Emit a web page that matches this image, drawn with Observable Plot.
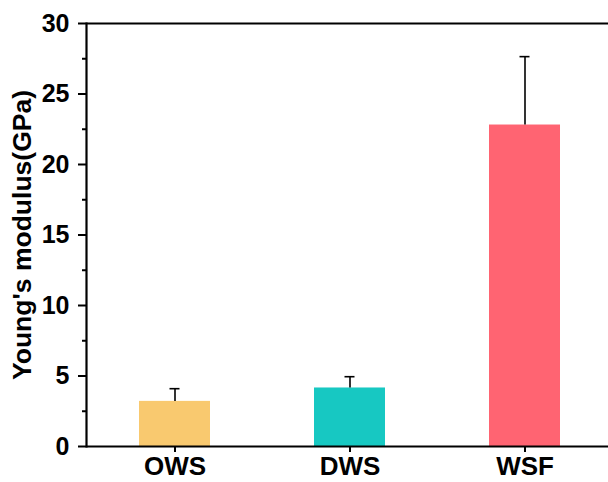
<!DOCTYPE html>
<html>
<head>
<meta charset="utf-8">
<script src="https://cdn.jsdelivr.net/npm/d3@7"></script>
<script src="https://cdn.jsdelivr.net/npm/@observablehq/plot@0.6"></script>
<style>
  html, body { margin: 0; padding: 0; background: #fff; }
  svg { display: block; }
  g[aria-label="y-axis label"], g[aria-label="y-axis label"] text { font-size: 26.5px; }
  g[aria-label="y-axis tick label"], g[aria-label="y-axis tick label"] text { font-size: 25px; }
  g[aria-label="x-axis tick label"], g[aria-label="x-axis tick label"] text { font-size: 26px; }
</style>
</head>
<body>
<div id="chart"></div>
<script>
const categories = ["OWS", "DWS", "WSF"];
const modulus = [3.2, 4.15, 22.8];
const errors = [0.9, 0.8, 4.85];
const colors = ["#F9C96F", "#17C8C2", "#FF6472"];
const majorTicks = [0, 5, 10, 15, 20, 25, 30];
const minorTicks = [2.5, 7.5, 12.5, 17.5, 22.5, 27.5];
const yLabel = "Young's modulus(GPa)";

const data = categories.map((c, i) => ({cat: c, val: modulus[i], top: modulus[i] + errors[i], color: colors[i]}));

const font = "'Liberation Sans', Arial, sans-serif";

const chart = Plot.plot({
  width: 608,
  height: 482,
  marginLeft: 86,
  marginRight: 0,
  marginTop: 23,
  marginBottom: 36,
  style: {fontFamily: font, fontWeight: "bold", fontSize: "25px", color: "#000", background: "#fff"},
  x: {domain: categories, range: [86, 612], paddingInner: 0.595, paddingOuter: 0.2975},
  y: {domain: [0, 30]},
  marks: [
    Plot.barY(data, {x: "cat", y: "val", fill: "color"}),
    Plot.ruleX(data, {x: "cat", y1: "val", y2: "top", stroke: "#000", strokeWidth: 1.6}),
    Plot.tickY(data, {x: "cat", y: "top", stroke: "#000", strokeWidth: 1.6, insetLeft: 30.5, insetRight: 30.5}),
    Plot.axisY(minorTicks, {tickSize: 4, tickFormat: () => "", strokeWidth: 2, label: null}),
    Plot.axisY(majorTicks, {tickSize: 8, tickPadding: 9, strokeWidth: 2, fontSize: 25, label: yLabel, labelAnchor: "center", labelArrow: "none", labelOffset: 74}),
    Plot.axisX({tickSize: 6, tickPadding: 4, strokeWidth: 2, fontSize: 26, label: null}),
    Plot.ruleY([0], {stroke: "#000", strokeWidth: 2.2}),
    Plot.ruleY([30], {stroke: "#000", strokeWidth: 2.2}),
    Plot.frame({anchor: "left", stroke: "#000", strokeWidth: 2.2})
  ]
});
document.getElementById("chart").append(chart);
</script>
</body>
</html>
